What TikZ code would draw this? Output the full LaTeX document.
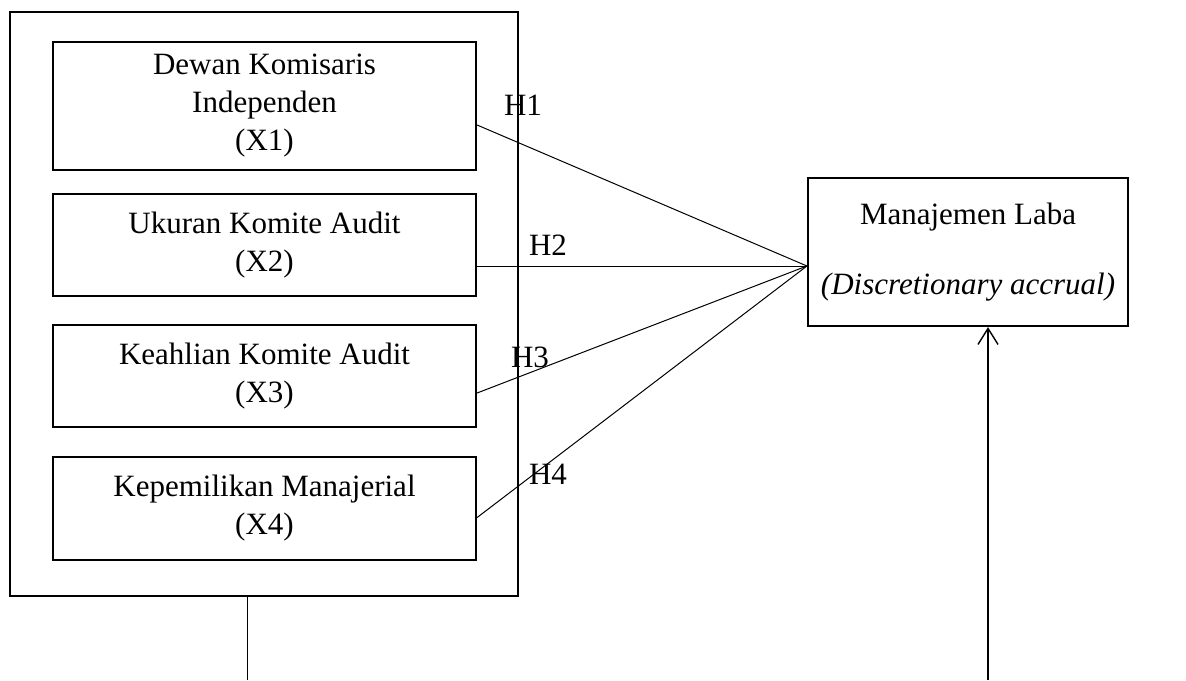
\documentclass[tikz,border=0pt]{standalone}
\usepackage{fontspec}
\setmainfont{Liberation Serif}
\usetikzlibrary{arrows.meta}
\begin{document}
\begin{tikzpicture}[x=0.5pt,y=-0.5pt,
  var/.style={draw,line width=1.1pt,minimum width=211.5pt,align=center,inner sep=0pt,font=\fontsize{15.5pt}{19pt}\selectfont},
  hyp/.style={inner sep=0pt,font=\fontsize{15.5pt}{19pt}\selectfont},
  link/.style={line width=0.5pt}]
\useasboundingbox (0,0) rectangle (1186,680);
\node[draw,line width=1.1pt,minimum width=254pt,minimum height=292pt,inner sep=0pt] (grp) at (264,304) {};
\node[var,minimum height=64pt] (X1) at (264.5,106) {Dewan Komisaris\\Independen\\(X1)};
\node[var,minimum height=51pt] (X2) at (264.5,245) {Ukuran Komite Audit\\(X2)};
\node[var,minimum height=51pt] (X3) at (264.5,376) {Keahlian Komite Audit\\(X3)};
\node[var,minimum height=51.5pt] (X4) at (264.5,508.5) {Kepemilikan Manajerial\\(X4)};
\node[var,minimum width=160pt,minimum height=74pt] (ML) at (968,252) {Manajemen Laba\\[16pt]\textit{(Discretionary accrual)}};
\coordinate (ML-in) at ([yshift=-7pt]ML.west);
\coordinate (X1-out) at ([yshift=-9.5pt]X1.east);
\coordinate (X2-out) at ([yshift=-10.5pt]X2.east);
\coordinate (X3-out) at ([yshift=-8.5pt]X3.east);
\coordinate (X4-out) at ([yshift=-4.5pt]X4.east);
\draw[link] (X1-out) -- (ML-in);
\draw[link] (X2-out) -- (ML-in);
\draw[link] (X3-out) -- (ML-in);
\draw[link] (X4-out) -- (ML-in);
\node[hyp] (H1) at (523,105) {H1};
\node[hyp] (H2) at (548,245) {H2};
\node[hyp] (H3) at (530,357) {H3};
\node[hyp] (H4) at (548,474) {H4};
\coordinate (B1) at (247,680);
\coordinate (B2) at (988,680);
\draw[link] ([xshift=-8.5pt]grp.south) -- (B1);
\draw[link,line width=0.7pt,-{Straight Barb[length=8pt,width=10pt]}] (B2) -- ([xshift=10pt]ML.south);
\end{tikzpicture}
\end{document}
